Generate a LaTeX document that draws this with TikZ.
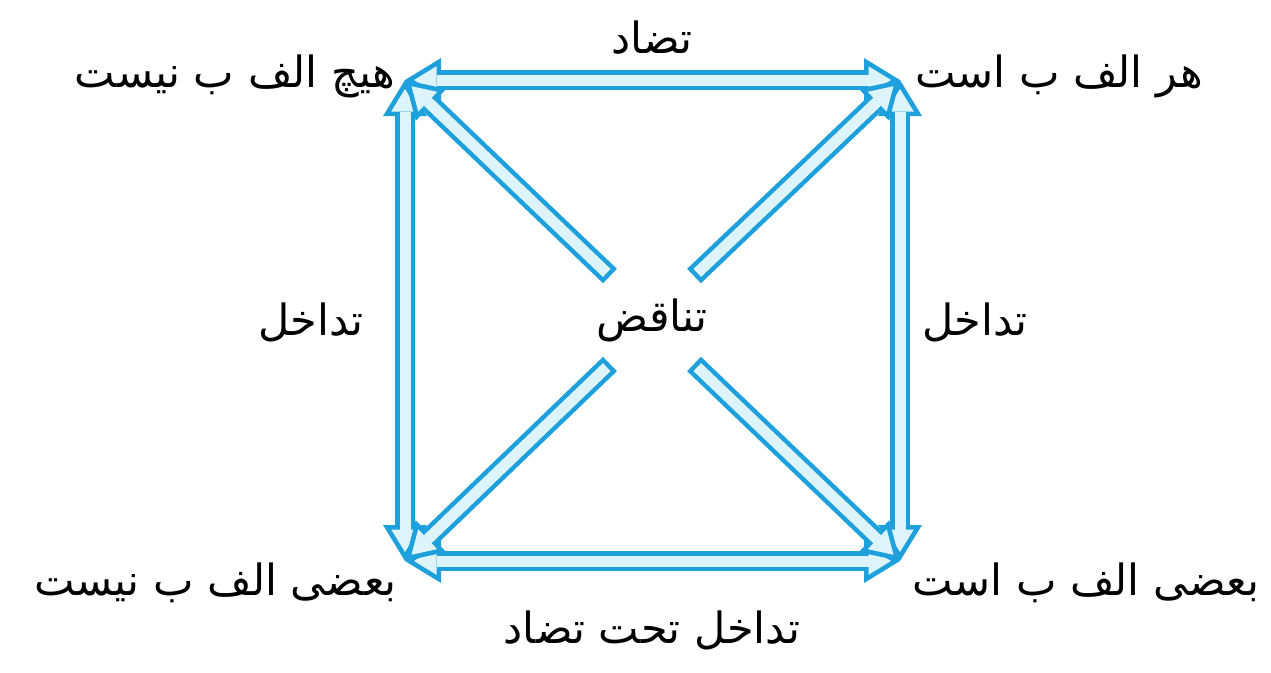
\documentclass[tikz,border=0pt]{standalone}
\usepackage{fontspec}
\newfontfamily\arabicfont[Script=Arabic]{DejaVu Sans}
\TeXXeTstate=1
\usetikzlibrary{arrows.meta,positioning,calc}
\definecolor{SquareBlue}{RGB}{30,160,220}
\definecolor{SquareFill}{RGB}{222,244,251}
\newcommand{\fa}[1]{\beginR #1\endR}
\tikzset{
  lbl/.style={font=\fontsize{43}{52}\selectfont\arabicfont,inner sep=0pt},
  outline/.style={draw=SquareBlue,line width=20pt,shorten <=0pt,shorten >=0pt},
  arr/.style={preaction={outline,-{Triangle[length=36pt,width=44pt,line width=0pt]}},
              draw=SquareFill,line width=11pt,shorten <=4.5pt,shorten >=9pt,
              -{Triangle[length=22.5pt,width=27.5pt,line width=0pt]}},
  darr/.style={preaction={outline,{Triangle[length=36pt,width=44pt,line width=0pt]}-{Triangle[length=36pt,width=44pt,line width=0pt]}},
               draw=SquareFill,line width=11pt,shorten <=9pt,shorten >=9pt,
               {Triangle[length=22.5pt,width=27.5pt,line width=0pt]}-{Triangle[length=22.5pt,width=27.5pt,line width=0pt]}},
}
\begin{document}
\begin{tikzpicture}[x=1pt,y=-1pt]
  \useasboundingbox (0,0) rectangle (1271,672);
  % corners of the square
  \coordinate (tl) at (405,80);
  \coordinate (tr) at (900,80);
  \coordinate (bl) at (405,561);
  \coordinate (br) at (900,561);
  \node[lbl] (mid) at (652,320) {\fa{تناقض}};
  % tails of the diagonals
  \coordinate (dtl) at (610,276);
  \coordinate (dtr) at (694,276);
  \coordinate (dbl) at (610,364);
  \coordinate (dbr) at (694,364);
  % sides
  \draw[darr] (tl) -- (bl);
  \draw[darr] (tr) -- (br);
  \draw[darr] (tl) -- (tr);
  \draw[darr] (bl) -- (br);
  % diagonals
  \draw[arr] (dtl) -- (tl);
  \draw[arr] (dtr) -- (tr);
  \draw[arr] (dbl) -- (bl);
  \draw[arr] (dbr) -- (br);
  % labels
  \node[lbl] (con) at (652,38) {\fa{تضاد}};
  \node[lbl,left=10pt of tl,yshift=4pt] (e) {\fa{هیچ الف ب نیست}};
  \node[lbl,right=15pt of tr,yshift=4pt] (a) {\fa{هر الف ب است}};
  \node[lbl] (sub1) at (311,322) {\fa{تداخل}};
  \node[lbl] (sub2) at (975,322) {\fa{تداخل}};
  \node[lbl,left=8pt of bl,yshift=-22pt] (o) {\fa{بعضی الف ب نیست}};
  \node[lbl,right=12pt of br,yshift=-22pt] (i) {\fa{بعضی الف ب است}};
  \node[lbl] (subc) at (652,630) {\fa{تداخل تحت تضاد}};
\end{tikzpicture}
\end{document}
